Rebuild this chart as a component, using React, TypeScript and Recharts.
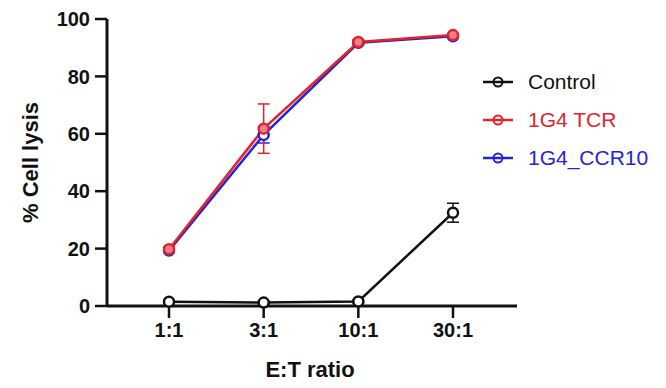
import React from "react";
import { LineChart, Line, XAxis, YAxis, ErrorBar, Legend } from "recharts";

// E:T ratios tested
const ratios = ["1:1", "3:1", "10:1", "30:1"];

// mean % lysis per group
const control = [1.5, 1.2, 1.6, 32.5];
const tcr = [19.8, 61.8, 92.0, 94.4];
const ccr10 = [19.3, 59.6, 91.7, 94.0];

// SD per group
const controlSd = [0.6, 0.5, 0.5, 3.3];
const tcrSd = [0.8, 8.6, 0.8, 0.6];
const ccr10Sd = [0.6, 2.8, 0.6, 0.5];

const yTicks = [0, 20, 40, 60, 80, 100];

const series = [
  { key: "control", name: "Control", color: "#111111", fill: "#ffffff" },
  { key: "tcr", name: "1G4 TCR", color: "#e4222c", fill: "#ee8088" },
  { key: "ccr10", name: "1G4_CCR10", color: "#2424d4", fill: "#ffffff" },
];

const data = ratios.map((ratio, i) => ({
  ratio,
  control: control[i],
  controlSd: controlSd[i],
  tcr: tcr[i],
  tcrSd: tcrSd[i],
  ccr10: ccr10[i],
  ccr10Sd: ccr10Sd[i],
}));

const FONT = "'Liberation Sans', Arial, sans-serif";

function YTitle({ viewBox }: any) {
  const x = viewBox.x + 30;
  const y = viewBox.y + viewBox.height / 2;
  return (
    <text
      x={x}
      y={y}
      transform={`rotate(-90 ${x} ${y})`}
      textAnchor="middle"
      dominantBaseline="central"
      fontFamily={FONT}
      fontWeight="bold"
      fontSize={22}
      fill="#111"
    >
      % Cell lysis
    </text>
  );
}

function XTitle({ viewBox }: any) {
  return (
    <text
      x={viewBox.x + viewBox.width / 2 - 2}
      y={viewBox.y + 71}
      textAnchor="middle"
      fontFamily={FONT}
      fontWeight="bold"
      fontSize={22}
      fill="#111"
    >
      E:T ratio
    </text>
  );
}

function GroupLegend() {
  return (
    <div style={{ fontFamily: FONT, fontSize: 21 }}>
      {series.map((s) => (
        <div
          key={s.key}
          style={{ display: "flex", alignItems: "center", height: 38 }}
        >
          <svg width={48} height={14}>
            <circle cx={18} cy={7} r={4.5} stroke={s.color} strokeWidth={2} fill="none" />
            <line x1={3} y1={7} x2={33} y2={7} stroke={s.color} strokeWidth={2.5} />
          </svg>
          <span style={{ color: s.color }}>{s.name}</span>
        </div>
      ))}
    </div>
  );
}

const tickStyle = { fontFamily: FONT, fontWeight: "bold", fontSize: 20, fill: "#111" };

export default function App() {
  // blue drawn before red so the red curve sits on top
  const drawOrder = [series[0], series[2], series[1]];
  return (
    <div style={{ position: "fixed", left: 0, top: 0, background: "#fff" }}>
      <LineChart
        width={666}
        height={388}
        data={data}
        margin={{ top: 19, right: 149, bottom: 0, left: 0 }}
      >
        <XAxis
          dataKey="ratio"
          height={82}
          padding={{ left: 62, right: 64 }}
          tickSize={12}
          tickMargin={5}
          tick={tickStyle}
          axisLine={{ stroke: "#111", strokeWidth: 3 }}
          tickLine={{ stroke: "#111", strokeWidth: 2.5 }}
          label={<XTitle />}
        />
        <YAxis
          width={107}
          domain={[0, 100]}
          ticks={yTicks}
          tickSize={12}
          tickMargin={5}
          tick={tickStyle}
          axisLine={{ stroke: "#111", strokeWidth: 3 }}
          tickLine={{ stroke: "#111", strokeWidth: 2.5 }}
          label={<YTitle />}
        />
        {drawOrder.map((s) => (
          <Line
            key={s.key}
            dataKey={s.key}
            name={s.name}
            stroke={s.color}
            strokeWidth={2.5}
            dot={{ r: 5, stroke: s.color, strokeWidth: 2.5, fill: s.fill }}
            activeDot={false}
            isAnimationActive={false}
          >
            <ErrorBar
              dataKey={`${s.key}Sd`}
              width={6}
              stroke={s.color}
              strokeWidth={1.5}
              isAnimationActive={false}
            />
          </Line>
        ))}
        <Legend
          layout="vertical"
          align="center"
          verticalAlign="middle"
          wrapperStyle={{ left: 480, top: 63, width: 186 }}
          content={<GroupLegend />}
        />
      </LineChart>
    </div>
  );
}
